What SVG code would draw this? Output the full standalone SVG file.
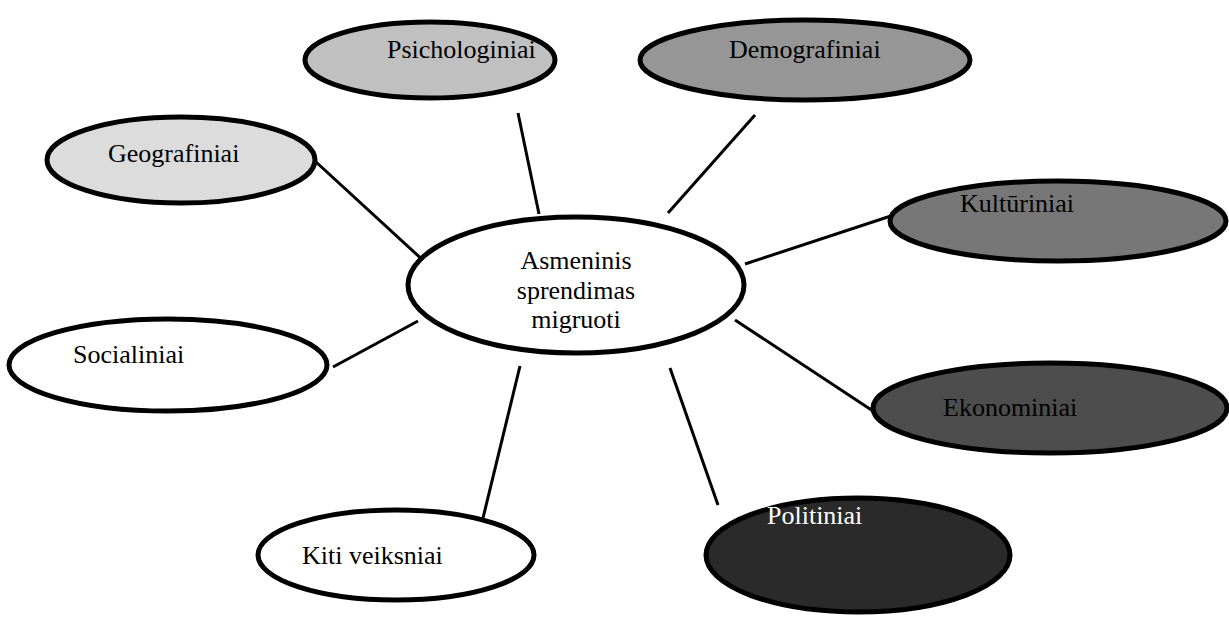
<svg xmlns="http://www.w3.org/2000/svg" width="1229" height="621" viewBox="0 0 1229 621">
  <style>
    .node { stroke: #000; stroke-width: 5; }
    .label { font-family: "Liberation Serif", "Times New Roman", serif; font-size: 26px; fill: #000; }
    .light { fill: #fff; }
    .edge { stroke: #000; stroke-width: 3; fill: none; }
  </style>
  <rect width="1229" height="621" fill="#fff"/>

  <!-- connectors from the central decision to each factor -->
  <g id="connectors">
    <line class="edge" x1="316" y1="162" x2="426" y2="263"/>
    <line class="edge" x1="518" y1="113" x2="539" y2="214"/>
    <line class="edge" x1="755" y1="115" x2="668" y2="213"/>
    <line class="edge" x1="903" y1="212" x2="745" y2="264"/>
    <line class="edge" x1="735" y1="320" x2="876" y2="413"/>
    <line class="edge" x1="670" y1="368" x2="718" y2="505"/>
    <line class="edge" x1="520" y1="366" x2="483" y2="518"/>
    <line class="edge" x1="418" y1="321" x2="333" y2="367"/>
  </g>

  <g id="center">
    <ellipse class="node" cx="576" cy="285" rx="168" ry="68" fill="#fff"/>
    <text class="label" text-anchor="middle" x="576" y="269">Asmeninis</text>
    <text class="label" text-anchor="middle" x="576" y="299">sprendimas</text>
    <text class="label" text-anchor="middle" x="576" y="328">migruoti</text>
  </g>

  <g id="psichologiniai">
    <ellipse class="node" cx="430" cy="60" rx="125" ry="38" fill="#c0c0c0"/>
    <text class="label" x="387" y="58">Psichologiniai</text>
  </g>

  <g id="demografiniai">
    <ellipse class="node" cx="805" cy="60" rx="165" ry="40" fill="#969696"/>
    <text class="label" x="729" y="58">Demografiniai</text>
  </g>

  <g id="geografiniai">
    <ellipse class="node" cx="181" cy="160" rx="134" ry="43" fill="#dcdcdc"/>
    <text class="label" x="108" y="162">Geografiniai</text>
  </g>

  <g id="kulturiniai">
    <ellipse class="node" cx="1058" cy="221" rx="168" ry="40" fill="#777"/>
    <text class="label" x="960" y="212">Kultūriniai</text>
  </g>

  <g id="socialiniai">
    <ellipse class="node" cx="168" cy="365" rx="159" ry="46" fill="#fff"/>
    <text class="label" x="73" y="363">Socialiniai</text>
  </g>

  <g id="ekonominiai">
    <ellipse class="node" cx="1050" cy="408" rx="177" ry="45" fill="#4d4d4d"/>
    <text class="label" x="943" y="416">Ekonominiai</text>
  </g>

  <g id="politiniai">
    <ellipse class="node" cx="858" cy="555" rx="152" ry="57" fill="#2a2a2a"/>
    <text class="label light" x="767" y="524">Politiniai</text>
  </g>

  <g id="kiti">
    <ellipse class="node" cx="396" cy="555" rx="138" ry="45" fill="#fff"/>
    <text class="label" x="302" y="564">Kiti veiksniai</text>
  </g>
</svg>
